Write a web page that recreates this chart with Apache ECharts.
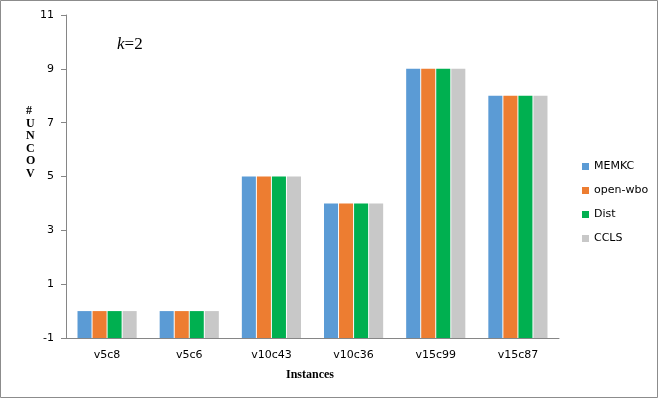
<!DOCTYPE html>
<html>
<head>
<meta charset="utf-8">
<script src="https://cdn.jsdelivr.net/npm/echarts@6/dist/echarts.min.js"></script>
<style>
  html, body { margin: 0; padding: 0; background: #fff; }
  #chart { width: 659px; height: 399px; }
</style>
</head>
<body>
<div id="chart"></div>
<script>
const instances = ['v5c8', 'v5c6', 'v10c43', 'v10c36', 'v15c99', 'v15c87']
const memkc = [0, 0, 5, 4, 9, 8]
const openWbo = [0, 0, 5, 4, 9, 8]
const dist = [0, 0, 5, 4, 9, 8]
const ccls = [0, 0, 5, 4, 9, 8]

const chart = echarts.init(document.getElementById('chart'))

const labelFont = { fontFamily: 'DejaVu Sans', fontSize: 11, color: '#000' }

// Shared bar style
const bar = (name, data, color) => ({
  name,
  type: 'bar',
  data,
  barGap: '7%',
  barCategoryGap: '28%',
  itemStyle: { color },
  emphasis: { disabled: true }
})

const options = {
  animation: false,
  backgroundColor: '#fff',
  grid: { left: 66, top: 15, width: 493, height: 323 },
  legend: {
    orient: 'vertical',
    left: 577,
    top: 156,
    itemWidth: 7,
    itemHeight: 7,
    itemGap: 13,
    icon: 'rect',
    textStyle: { fontFamily: 'DejaVu Sans', fontSize: 11, color: '#000' },
    data: ['MEMKC', 'open-wbo', 'Dist', 'CCLS']
  },
  xAxis: {
    type: 'category',
    data: instances,
    axisLine: { onZero: false, lineStyle: { color: '#868686', width: 1 } },
    axisTick: { length: 5, lineStyle: { color: '#868686' } },
    axisLabel: Object.assign({ margin: 12 }, labelFont)
  },
  yAxis: {
    type: 'value',
    min: -1,
    max: 11,
    interval: 2,
    startValue: -1, // bars grow from the -1 axis line
    splitLine: { show: false },
    axisLine: { show: true, lineStyle: { color: '#868686', width: 1 } },
    axisTick: { show: true, length: 5, lineStyle: { color: '#868686' } },
    axisLabel: Object.assign({ margin: 12 }, labelFont)
  },
  graphic: [
    {
      type: 'rect',
      shape: { x: 0.5, y: 0.5, width: 657, height: 397 },
      style: { fill: null, stroke: '#8c8c8c', lineWidth: 1 },
      silent: true
    },
    {
      type: 'text',
      left: 26,
      top: 105,
      style: {
        text: '#\nU\nN\nC\nO\nV',
        font: 'bold 12px "Liberation Serif"',
        fill: '#000',
        align: 'center',
        lineHeight: 12.5
      }
    },
    {
      type: 'text',
      left: 286,
      top: 369,
      style: { text: 'Instances', font: 'bold 12px "Liberation Serif"', fill: '#000' }
    },
    {
      type: 'text',
      left: 117,
      top: 36,
      style: {
        rich: {
          k: { fontFamily: 'Liberation Serif', fontStyle: 'italic', fontSize: 17, fill: '#000' },
          n: { fontFamily: 'Liberation Serif', fontSize: 17, fill: '#000' }
        },
        text: '{k|k}{n|=2}'
      }
    }
  ],
  series: [
    bar('MEMKC', memkc, '#5B9BD5'),
    bar('open-wbo', openWbo, '#ED7D31'),
    bar('Dist', dist, '#00B050'),
    bar('CCLS', ccls, '#C8C8C8')
  ]
}

chart.setOption(options)
</script>
</body>
</html>
